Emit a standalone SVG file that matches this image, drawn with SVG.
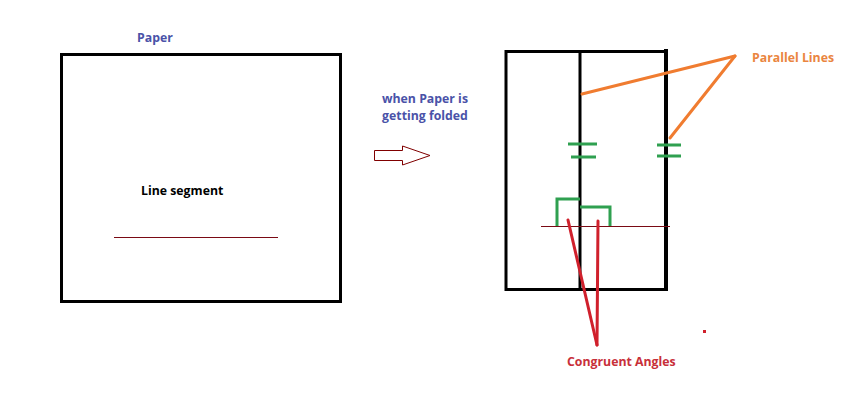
<svg xmlns="http://www.w3.org/2000/svg" width="848" height="411" viewBox="0 0 848 411">
<style>
text{font-family:"Open Sans","Liberation Sans",sans-serif;font-weight:bold;font-size:12.3px}
.blue{fill:#4a52a8}
.frame{fill:none;stroke:#000;stroke-width:3}
.green{fill:none;stroke:#2fa050;stroke-width:3}
.orange{stroke:#f07c30;stroke-width:3;stroke-linecap:round}
.red{stroke:#d0202c;stroke-width:3;stroke-linecap:round}
.seg{stroke:#7a0a14;stroke-width:1}
</style>
<rect width="848" height="411" fill="#fff"/>
<g id="paper">
<text class="blue" x="137" y="42">Paper</text>
<rect class="frame" x="61.5" y="54.5" width="279" height="247"/>
<text x="141" y="195" fill="#000">Line segment</text>
<line class="seg" x1="114" y1="237.5" x2="278" y2="237.5"/>
</g>
<g id="fold-arrow">
<text class="blue" x="425" y="103" text-anchor="middle">when Paper is</text>
<text class="blue" x="425" y="120" text-anchor="middle">getting folded</text>
<path d="M374.5,150.5 H402.5 V146 L430,155.5 L402.5,165 V160.5 H374.5 Z" fill="#fff" stroke="#800000" stroke-width="1"/>
</g>
<g id="folded-paper">
<rect class="frame" x="506" y="51.5" width="160" height="238"/>
<line x1="666" y1="49" x2="666" y2="291" stroke="#000" stroke-width="4"/>
<line x1="580" y1="51" x2="580" y2="289" stroke="#000" stroke-width="3"/>
<line class="seg" x1="541" y1="226.5" x2="670" y2="226.5"/>
<path class="green" d="M568,144 H597 M571,157 H596 M657,145 H681 M657,156 H681"/>
<path class="green" d="M557,226 V199 H580 M580,207 H610 V226"/>
</g>
<g id="connectors">
<line class="orange" x1="582" y1="94" x2="735" y2="56"/>
<line class="orange" x1="735" y1="56" x2="670" y2="138"/>
<line class="red" x1="568" y1="220" x2="597" y2="345"/>
<line class="red" x1="598" y1="221" x2="597" y2="345"/>
<rect x="703" y="330" width="3" height="3" fill="#d0202c"/>
</g>
<g id="labels">
<text x="752" y="62" fill="#ea8540">Parallel Lines</text>
<text x="567" y="366" fill="#c8303a">Congruent Angles</text>
</g>
</svg>
